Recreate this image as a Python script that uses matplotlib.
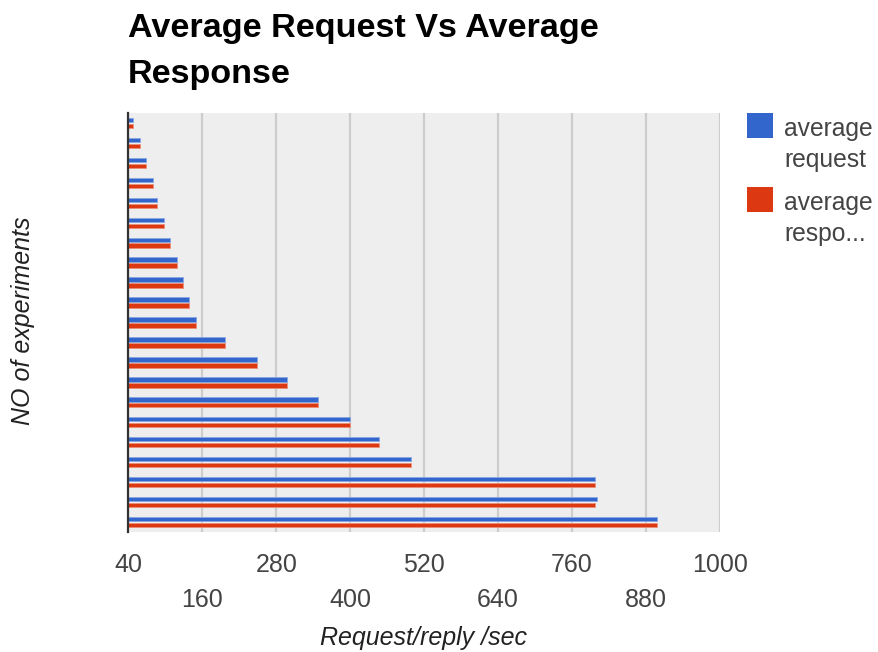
import matplotlib
matplotlib.use("Agg")
import matplotlib.pyplot as plt
from matplotlib.patches import Rectangle
import numpy as np

# Average request / response rates per experiment (requests per second)
experiments = list(range(1, 22))
avg_request = [48, 59, 69, 79, 87, 97, 107, 118, 128, 139, 149,
               197, 249, 298, 347, 399, 447, 499, 797, 801, 898]
avg_response = [48, 59, 69, 79, 87, 97, 107, 118, 128, 139, 149,
                197, 249, 298, 347, 399, 447, 499, 797, 797, 898]

series_names = ["average\nrequest", "average\nrespo..."]
series_colors = ["#3366cc", "#dc3912"]
series_edges = ["#8aa6e2", "#ec8f78"]

major_ticks = [40, 280, 520, 760, 1000]
minor_ticks = [160, 400, 640, 880]

W, H = 879, 652
fig = plt.figure(figsize=(W / 100, H / 100), dpi=100)
fig.patch.set_facecolor("white")

def px(x0, y0, x1, y1):
    return [x0 / W, 1 - y1 / H, (x1 - x0) / W, (y1 - y0) / H]

ax = fig.add_axes(px(128.5, 113, 720, 532))
ax.set_facecolor("#eeeeee")

font = "Liberation Sans"
y = np.arange(len(experiments))
bh = 0.22
ax.barh(y - 0.15, avg_request, height=bh, left=0, color=series_colors[0],
        edgecolor=series_edges[0], linewidth=0.6, zorder=3)
ax.barh(y + 0.15, avg_response, height=bh, left=0, color=series_colors[1],
        edgecolor=series_edges[1], linewidth=0.6, zorder=3)

ax.set_xlim(40, 1000)
ax.set_ylim(len(experiments) - 0.5, -0.5)
ax.set_yticks([])

ax.set_xticks(major_ticks)
ax.set_xticks(minor_ticks, minor=True)
ax.set_xticklabels([str(v) for v in major_ticks], fontname=font, fontsize=18,
                   color="#444444")
ax.set_xticklabels([str(v) for v in minor_ticks], minor=True, fontname=font,
                   fontsize=18, color="#444444")
ax.tick_params(axis="x", which="major", length=0, pad=15)
ax.tick_params(axis="x", which="minor", length=0, pad=40)

for v in major_ticks[1:] + minor_ticks:
    ax.axvline(v, color="#cdcdcd", lw=1.6, zorder=1)

for s in ["top", "right", "bottom"]:
    ax.spines[s].set_visible(False)
ax.spines["left"].set_color("#333333")
ax.spines["left"].set_linewidth(1.6)
ax.spines["left"].set_zorder(4)

# Titles
fig.text(128 / W, 1 - 37 / H, "Average Request Vs Average", fontname=font,
         fontweight="bold", fontsize=24.6, color="black", va="baseline",
         ha="left")
fig.text(128 / W, 1 - 83 / H, "Response", fontname=font, fontweight="bold",
         fontsize=24.6, color="black", va="baseline", ha="left")
fig.text(424 / W, 1 - 638 / H, "Request/reply /sec", fontname=font,
         style="italic", fontsize=18, color="#222222", ha="center",
         va="center")
fig.text(23 / W, 1 - 321 / H, "NO of experiments", fontname=font,
         style="italic", fontsize=18, color="#222222", ha="center",
         va="center", rotation=90)

# Legend
legend_rows = [(113, series_colors[0], series_names[0]),
               (187, series_colors[1], series_names[1])]
for top, col, name in legend_rows:
    fig.patches.append(Rectangle((747 / W, 1 - (top + 25) / H), 26 / W,
                                 25 / H, transform=fig.transFigure,
                                 facecolor=col, edgecolor="none"))
    l1, l2 = name.split("\n")
    fig.text(784 / W, 1 - (top + 23) / H, l1, fontname=font, fontsize=17.7,
             color="#444444", va="baseline", ha="left")
    fig.text(784 / W, 1 - (top + 54) / H, l2, fontname=font, fontsize=17.7,
             color="#444444", va="baseline", ha="left")

fig.savefig("out.png", dpi=100)
